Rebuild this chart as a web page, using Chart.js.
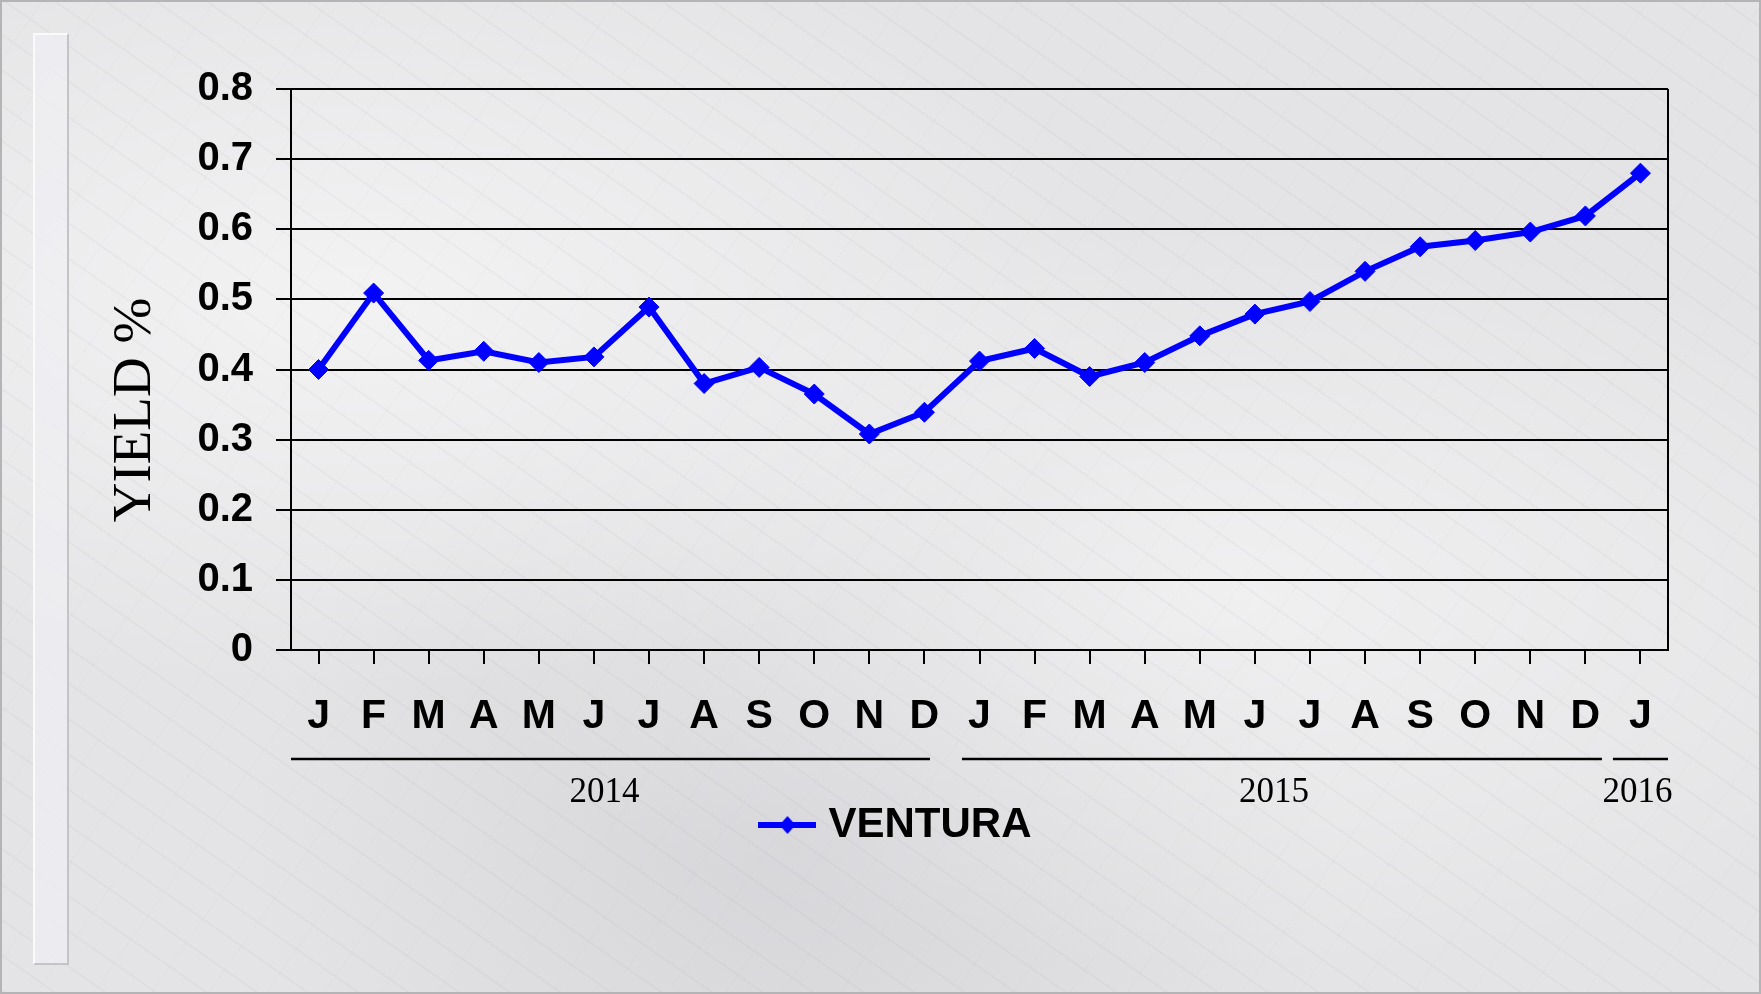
<!DOCTYPE html>
<html>
<head>
<meta charset="utf-8">
<script src="https://cdn.jsdelivr.net/npm/chart.js@4.4.1/dist/chart.umd.min.js"></script>
<style>
    html, body { margin: 0; padding: 0; }
    body { width: 1761px; height: 994px; overflow: hidden; position: relative; }
    .marble {
        position: absolute; left: 0; top: 0; width: 1757px; height: 990px;
        border: 2px solid #b4b4b6;
        background-color: #e4e4e6;
        background-image:
            repeating-linear-gradient(35deg, rgba(150,150,155,0.07) 0px, rgba(150,150,155,0.07) 2px, transparent 2px, transparent 29px),
            repeating-linear-gradient(-55deg, rgba(170,170,175,0.06) 0px, rgba(170,170,175,0.06) 1px, transparent 1px, transparent 47px),
            radial-gradient(ellipse at 20% 30%, rgba(255,255,255,0.55), transparent 40%),
            radial-gradient(ellipse at 70% 60%, rgba(255,255,255,0.45), transparent 45%),
            radial-gradient(ellipse at 45% 85%, rgba(200,200,205,0.5), transparent 40%);
    }
    .side {
        position: absolute; left: 33px; top: 33px; width: 32px; height: 928px;
        background: rgba(240,240,243,0.7);
        border-left: 2px solid #fafafa; border-top: 2px solid #fafafa;
        border-right: 2px solid #c4c4c6; border-bottom: 2px solid #c4c4c6;
    }
    canvas { position: absolute; left: 0; top: 0; }
</style>
</head>
<body>
<div class="marble"></div>
<div class="side"></div>
<canvas id="yieldChart" width="1761" height="994"></canvas>
<script>
// monthly yield, Jan 2014 .. Jan 2016
const months = ['J', 'F', 'M', 'A', 'M', 'J', 'J', 'A', 'S', 'O', 'N', 'D',
                'J', 'F', 'M', 'A', 'M', 'J', 'J', 'A', 'S', 'O', 'N', 'D', 'J'];
const yields = [0.400, 0.509, 0.413, 0.426, 0.410, 0.418, 0.489, 0.380, 0.403, 0.365, 0.308, 0.339,
                0.412, 0.430, 0.390, 0.410, 0.448, 0.479, 0.497, 0.540, 0.575, 0.584, 0.596, 0.619, 0.680];
const yTickLabels = ['0', '0.1', '0.2', '0.3', '0.4', '0.5', '0.6', '0.7', '0.8'];
const yearLabels = ['2014', '2015', '2016'];
const yearFirstIndex = [0, 12, 24];
const yearLastIndex = [11, 23, 24];
const seriesName = 'VENTURA';

const lineColor = '#0000ff';
const sansBold = "'Liberation Sans', Arial, sans-serif";
const serif = "'Liberation Serif', 'Times New Roman', serif";

/** Builds the legend symbol: a short line with a diamond on it. */
function legendSymbol() {
    const c = document.createElement('canvas');
    c.width = 58;
    c.height = 20;
    const g = c.getContext('2d');
    g.fillStyle = lineColor;
    g.fillRect(0, 7, 58, 6);
    g.beginPath();
    g.moveTo(29, 1);
    g.lineTo(37, 10);
    g.lineTo(29, 19);
    g.lineTo(21, 10);
    g.closePath();
    g.fill();
    return c;
}

// year brackets under the month labels, the right frame line and the y title
const captions = {
    id: 'captions',
    beforeDatasetsDraw(chart) {
        const {ctx, chartArea} = chart;
        ctx.save();
        ctx.strokeStyle = '#000';
        ctx.lineWidth = 2;
        ctx.beginPath();
        ctx.moveTo(chartArea.right, chartArea.top);
        ctx.lineTo(chartArea.right, chartArea.bottom);
        ctx.stroke();
        ctx.restore();
    },
    afterDraw(chart) {
        const {ctx, chartArea, scales: {x}} = chart;
        const half = (x.getPixelForValue(1) - x.getPixelForValue(0)) / 2;
        const lineY = chartArea.bottom + 109;
        const textY = chartArea.bottom + 143;
        const startGap = [0, 10, 0];
        const endGap = [22, 11, 0];
        const textShift = [-6, -8, -3];
        ctx.save();
        ctx.strokeStyle = '#000';
        ctx.lineWidth = 2.5;
        ctx.fillStyle = '#000';
        ctx.font = '35px ' + serif;
        ctx.textAlign = 'center';
        ctx.textBaseline = 'middle';
        yearLabels.forEach((year, i) => {
            const start = x.getPixelForValue(yearFirstIndex[i]) - half + startGap[i];
            const end = x.getPixelForValue(yearLastIndex[i]) + half - endGap[i];
            ctx.beginPath();
            ctx.moveTo(start, lineY);
            ctx.lineTo(end, lineY);
            ctx.stroke();
            ctx.fillText(year, (start + end) / 2 + textShift[i], textY);
        });
        // axis title
        ctx.font = '55px ' + serif;
        ctx.translate(136, 410);
        ctx.rotate(-Math.PI / 2);
        ctx.fillText('YIELD %', 0, 0);
        ctx.restore();
    }
};

const chart = new Chart(document.getElementById('yieldChart'), {
    type: 'line',
    data: {
        labels: months,
        datasets: [{
            label: seriesName,
            data: yields,
            borderColor: lineColor,
            backgroundColor: lineColor,
            borderWidth: 6,
            pointStyle: 'rectRot',
            pointRadius: 10,
            pointHoverRadius: 10,
            pointBorderWidth: 1,
            pointBackgroundColor: lineColor,
            pointBorderColor: lineColor,
            tension: 0
        }]
    },
    options: {
        responsive: false,
        devicePixelRatio: 1,
        animation: false,
        events: [],
        layout: {
            padding: {left: 131, right: 93, top: 89, bottom: 138}
        },
        scales: {
            x: {
                offset: true,
                grid: {
                    drawOnChartArea: false,
                    drawTicks: true,
                    tickLength: 14,
                    color: '#000',
                    lineWidth: 2
                },
                border: {display: true, color: '#000', width: 2},
                ticks: {
                    autoSkip: false,
                    maxRotation: 0,
                    padding: 28,
                    color: '#000',
                    font: {family: sansBold, size: 41, weight: 'bold', lineHeight: 1.2}
                },
                afterFit(scale) {
                    scale.height = 150;
                }
            },
            y: {
                min: 0,
                max: 0.8,
                ticks: {
                    stepSize: 0.1,
                    padding: 23,
                    color: '#000',
                    font: {family: sansBold, size: 40, weight: 'bold'},
                    callback: (value, index) => yTickLabels[index]
                },
                grid: {
                    color: '#000',
                    lineWidth: 2,
                    tickLength: 15
                },
                border: {display: true, color: '#000', width: 2},
                afterFit(scale) {
                    scale.width = 291 - 131;
                }
            }
        },
        plugins: {
            legend: {
                position: 'bottom',
                labels: {
                    usePointStyle: true,
                    pointStyle: legendSymbol(),
                    pointStyleWidth: 40,
                    padding: 4,
                    color: '#000',
                    font: {family: sansBold, size: 42, weight: 'bold', lineHeight: 1}
                }
            },
            tooltip: {enabled: false}
        }
    },
    plugins: [captions]
});
</script>
</body>
</html>
